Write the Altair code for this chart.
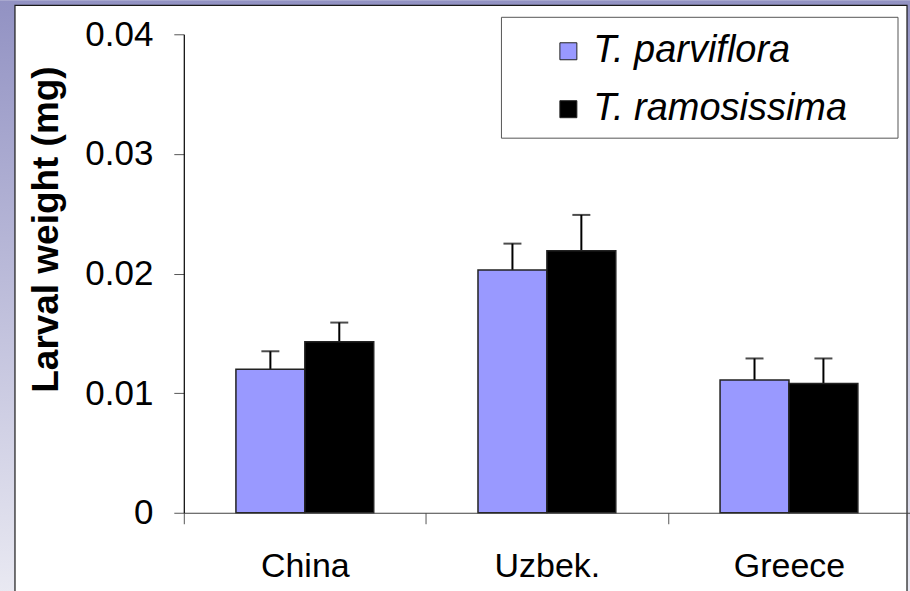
import altair as alt
import pandas as pd

# Mean larval weight (mg) with standard errors, per population source
countries = ["China", "Uzbek.", "Greece"]
species = ["T. parviflora", "T. ramosissima"]
parviflora = [0.0120, 0.0203, 0.0111]
parviflora_se = [0.0015, 0.0022, 0.0018]
ramosissima = [0.0143, 0.0219, 0.0108]
ramosissima_se = [0.0016, 0.0030, 0.0021]
y_ticks = [0, 0.01, 0.02, 0.03, 0.04]
bar_colors = ["#9999ff", "#000000"]

rows = []
for i, c in enumerate(countries):
    rows.append({"country": c, "species": species[0], "weight": parviflora[i],
                 "upper": parviflora[i] + parviflora_se[i]})
    rows.append({"country": c, "species": species[1], "weight": ramosissima[i],
                 "upper": ramosissima[i] + ramosissima_se[i]})
df = pd.DataFrame(rows)

W, H = 727, 479
FONT = "Liberation Sans"

x_enc = alt.X(
    "country:N", sort=countries, title=None,
    scale=alt.Scale(paddingInner=0, paddingOuter=0),
    axis=alt.Axis(
        tickBand="extent", labelAngle=0, labelAlign="center", labelFont=FONT,
        labelFontSize=34, labelColor="black", labelPadding=43, tickSize=11,
        tickColor="#555555", domainColor="#404040", domainWidth=1, tickWidth=1,
        labelFlush=False, zindex=1,
    ),
)
xoff_enc = alt.XOffset("species:N", sort=species,
                       scale=alt.Scale(paddingInner=0, paddingOuter=0.7565))
y_scale = alt.Scale(domain=[0, 0.04], nice=False)

# slide backdrop and white panel
backdrop = alt.Chart(alt.Data(values=[{}])).mark_rect(
    color=alt.LinearGradient(
        gradient="linear", x1=0, x2=0, y1=0, y2=1,
        stops=[alt.GradientStop(offset=0, color="#9292c3"),
               alt.GradientStop(offset=1, color="#e9e9f2")],
    )
).encode(x=alt.value(-184), x2=alt.value(W + 10), y=alt.value(-34), y2=alt.value(H + 80))

panel = alt.Chart(alt.Data(values=[{}])).mark_rect(
    fill="white", stroke="#1a1a1a", strokeWidth=1.2
).encode(x=alt.value(-169), x2=alt.value(724), y=alt.value(-29), y2=alt.value(H + 120))

legend_box = alt.Chart(alt.Data(values=[{}])).mark_rect(
    fill="white", stroke="#555555", strokeWidth=1
).encode(x=alt.value(318), x2=alt.value(715), y=alt.value(-17), y2=alt.value(104))

bars = alt.Chart(df).mark_bar(stroke="#222222", strokeWidth=1.5).encode(
    x=x_enc,
    xOffset=xoff_enc,
    y=alt.Y(
        "weight:Q", scale=y_scale, title="Larval weight (mg)",
        axis=alt.Axis(
            values=y_ticks, format=".2~f", labelFont=FONT, labelFontSize=35,
            labelColor="black", labelPadding=21, tickSize=10, tickColor="#555555",
            domainColor="black", domainWidth=1.2, grid=False, zindex=1,
            titleFont=FONT, titleFontSize=37, titleFontWeight="bold",
            titleColor="black", titleX=-137, titleY=195, titleBaseline="middle",
            titleAlign="center", titleAngle=270,
        ),
    ),
    color=alt.Color(
        "species:N", sort=species,
        scale=alt.Scale(domain=species, range=bar_colors),
        legend=alt.Legend(
            title=None, orient="none", legendX=366, legendY=-2,
            symbolType="square", symbolSize=289, symbolStrokeColor="#222222",
            symbolStrokeWidth=1, symbolOpacity=1,
            labelFont=FONT, labelFontSize=38, labelFontStyle="italic",
            labelColor="black", labelOffset=6, rowPadding=20, padding=0,
            labelLimit=400,
        ),
    ),
)

stems = alt.Chart(df).mark_rule(color="black", strokeWidth=2).encode(
    x=alt.X("country:N", sort=countries), xOffset=xoff_enc,
    y=alt.Y("weight:Q", scale=y_scale), y2="upper:Q",
)
caps = alt.Chart(df).mark_tick(color="black", orient="horizontal", size=18, thickness=2).encode(
    x=alt.X("country:N", sort=countries), xOffset=xoff_enc,
    y=alt.Y("upper:Q", scale=y_scale),
)

chart = alt.layer(backdrop, panel, legend_box, stems, caps, bars).properties(
    width=W, height=H,
    autosize=alt.AutoSizeParams(type="none"),
    padding={"left": 184, "top": 34, "right": 0, "bottom": 78},
    background="#e9e9f2",
).configure_view(stroke=None)

chart.save("out.html", embed_options={"renderer": "svg", "actions": False})
